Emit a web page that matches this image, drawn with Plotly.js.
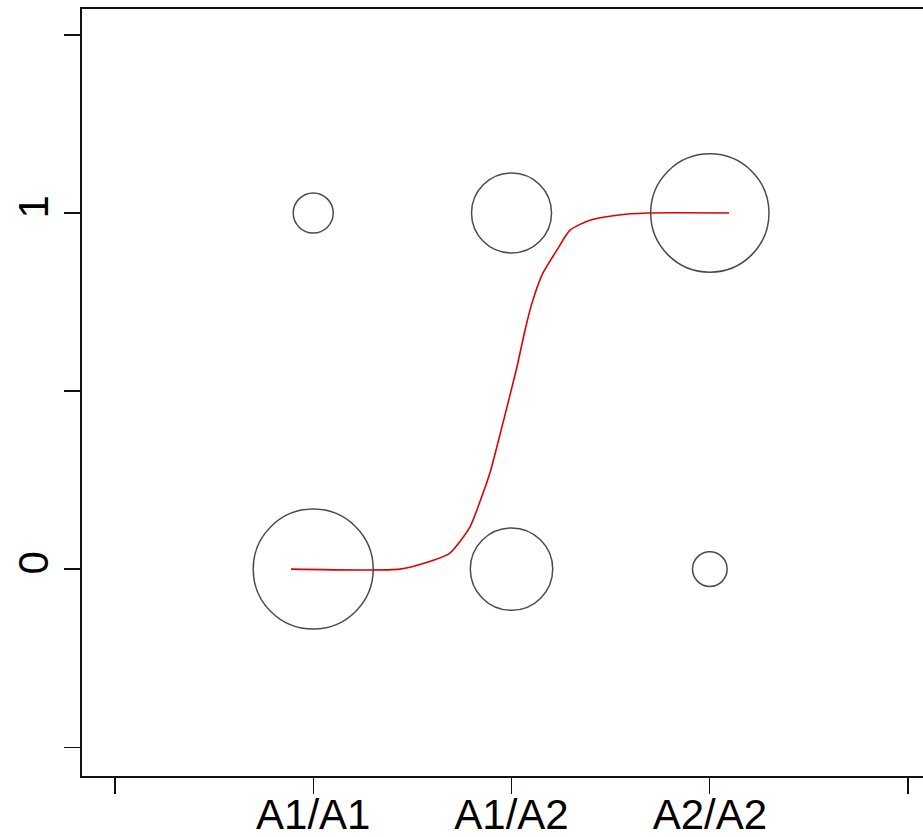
<!DOCTYPE html>
<html>
<head>
<meta charset="utf-8">
<script src="https://cdn.plot.ly/plotly-3.0.1.min.js"></script>
<style>html,body{margin:0;padding:0;overflow:hidden;background:#fff;}</style>
</head>
<body>
<div id="chart" style="width:923px;height:837px;"></div>
<script>
// Genotype categories (x positions 1..3)
const genotypeX = [1, 2, 3];
const genotypeLabels = ["A1/A1", "A1/A2", "A2/A2"];
// Counts per genotype for outcome 0 and outcome 1 (circle area ∝ count)
const counts0 = [36, 17, 3];
const counts1 = [4, 16, 35];
// Fitted curve
const curveX = [0.888, 1.437, 1.563, 1.689, 1.790, 1.841, 1.891, 1.931, 1.977, 2.027, 2.068, 2.103, 2.158, 2.229, 2.295, 2.395, 2.532, 2.683, 3.097];
const curveY = [0, 0, 0.017, 0.045, 0.118, 0.190, 0.270, 0.354, 0.455, 0.567, 0.671, 0.747, 0.831, 0.896, 0.952, 0.980, 0.994, 1.0, 1.0];
// Axis ticks
const xTickVals = [0, 1, 2, 3, 4];
const xTickText = ["", "A1/A1", "A1/A2", "A2/A2", ""];
const yTickVals = [-0.5, 0, 0.5, 1, 1.5];
const yTickText = ["", "0", "", "1", ""];

const circleMarker = (counts) => ({
  size: counts, sizemode: "area", sizeref: 0.005,
  color: "rgba(0,0,0,0)", line: {color: "#000", width: 1.5}, symbol: "circle"
});

const data = [
  {x: genotypeX, y: genotypeX.map(() => 0), mode: "markers", type: "scatter", marker: circleMarker(counts0), hoverinfo: "skip"},
  {x: genotypeX, y: genotypeX.map(() => 1), mode: "markers", type: "scatter", marker: circleMarker(counts1), hoverinfo: "skip"},
  {x: curveX, y: curveY, mode: "lines", type: "scatter", line: {color: "#e00000", width: 1.6, shape: "spline", smoothing: 0.6}, hoverinfo: "skip"}
];

const font = {family: "Liberation Sans, Arial, sans-serif", size: 42, color: "#000"};
const layout = {
  width: 923, height: 837,
  margin: {l: 82, r: 0, t: 9, b: 61, pad: 0},
  showlegend: false,
  paper_bgcolor: "#fff", plot_bgcolor: "#fff",
  font: font,
  xaxis: {
    range: [-0.166, 4.075], tickvals: xTickVals, ticktext: xTickText,
    showgrid: false, zeroline: false, showline: true, mirror: true,
    linecolor: "#111", linewidth: 1.6,
    ticks: "outside", ticklen: 16, tickwidth: 1.3, tickcolor: "#111",
    ticklabelstandoff: -15,
    tickfont: font
  },
  yaxis: {
    range: [-0.581, 1.573], tickvals: yTickVals, ticktext: yTickText,
    showgrid: false, zeroline: false, showline: true, mirror: false,
    linecolor: "#111", linewidth: 1.6,
    ticks: "outside", ticklen: 16, tickwidth: 1.3, tickcolor: "#111",
    tickangle: -90, tickfont: font
  }
};

Plotly.newPlot("chart", data, layout, {staticPlot: true, displayModeBar: false});
</script>
</body>
</html>
